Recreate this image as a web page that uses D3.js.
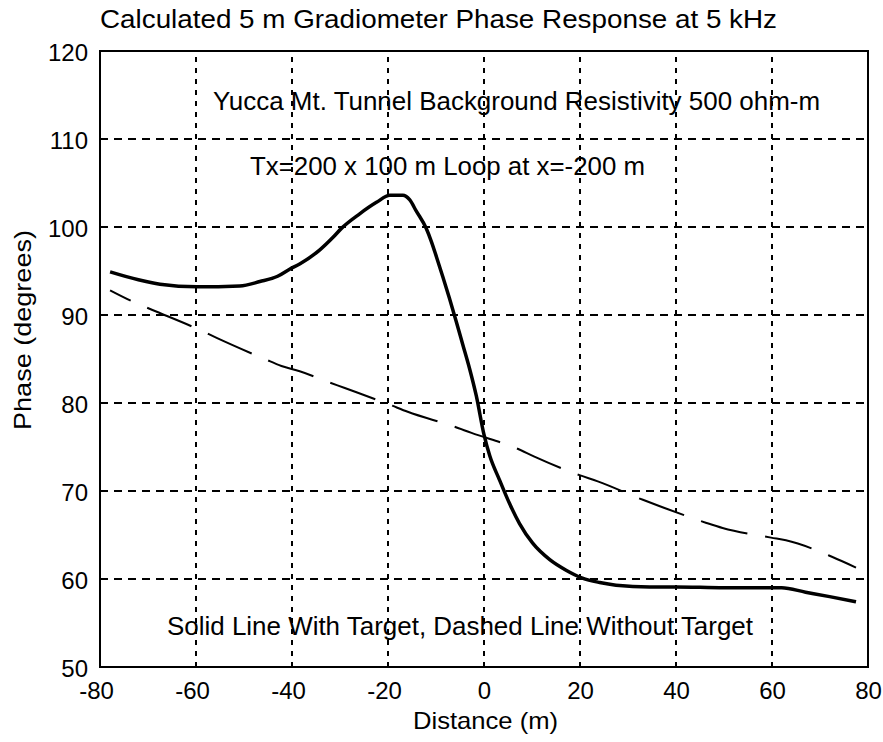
<!DOCTYPE html>
<html>
<head>
<meta charset="utf-8">
<script src="https://cdn.jsdelivr.net/npm/d3@7"></script>
<style>
  body { margin: 0; background: #fff; }
  text { font-family: "Liberation Sans", Arial, sans-serif; fill: #000; }
</style>
</head>
<body>
<div id="chart"></div>
<script>
// solid line: with target
const solidDist = [-77.9, -72, -67.5, -59.8, -50.9, -46.7, -43, -40.5, -38.4, -34.2, -31.5, -29.6, -25.9, -22.4, -19.6, -16.9, -15.5, -14.1, -12, -11, -9.9, -8.55, -7.2, -5.8, -4.4, -3.0, -1.6, 0, 1.2, 3.2, 5.3, 7.4, 10.1, 13.7, 17.1, 20.5, 24.1, 27.5, 34.5, 40, 50, 62, 67, 72, 77.5];
const solidPhase = [94.9, 94.0, 93.5, 93.2, 93.3, 93.8, 94.4, 95.2, 95.8, 97.4, 98.8, 99.9, 101.5, 102.8, 103.6, 103.6, 103.1, 101.8, 99.8, 98.4, 96.6, 94.3, 91.9, 89.3, 86.6, 83.9, 80.8, 76.4, 74.0, 71.3, 68.6, 66.3, 64.1, 62.2, 61.0, 60.1, 59.6, 59.3, 59.1, 59.1, 59.0, 59.0, 58.5, 58.0, 57.4];

// dashed line: without target
const dashDist = [-77.9, -73.1, -69.2, -59.2, -55.7, -45.7, -42.2, -38.4, -32.5, -29, -19.6, -15.9, -6.1, -2.6, 7, 10.5, 19.9, 23.7, 33.1, 36.5, 46.2, 49.7, 59.8, 62.9, 72.6, 77.5];
const dashPhase = [92.8, 91.5, 90.6, 88.3, 87.4, 85.0, 84.2, 83.6, 82.4, 81.7, 79.8, 79.0, 77.3, 76.6, 74.8, 73.9, 71.8, 71.1, 69.0, 68.3, 66.4, 65.8, 64.7, 64.4, 62.5, 61.3];

const xTicks = [-80, -60, -40, -20, 0, 20, 40, 60, 80];
const yTicks = [50, 60, 70, 80, 90, 100, 110, 120];

const titleText = 'Calculated 5 m Gradiometer Phase Response at 5 kHz';
const xLabel = 'Distance (m)';
const yLabel = 'Phase (degrees)';
const notes = [
    'Yucca Mt. Tunnel Background Resistivity 500 ohm-m',
    'Tx=200 x 100 m Loop at x=-200 m',
    'Solid Line With Target, Dashed Line Without Target'
];

const width = 883, height = 742;
const margin = {top: 51, right: 15, bottom: 75, left: 100};
const plotW = width - margin.left - margin.right;
const plotH = height - margin.top - margin.bottom;

const svg = d3.select('#chart').append('svg')
    .attr('width', width)
    .attr('height', height);

const x = d3.scaleLinear().domain([-80, 80]).range([margin.left, margin.left + plotW]);
const y = d3.scaleLinear().domain([50, 120]).range([margin.top + plotH, margin.top]);

// grid
svg.append('g').selectAll('line')
    .data(xTicks.slice(1, -1))
    .enter().append('line')
    .attr('x1', d => x(d)).attr('x2', d => x(d))
    .attr('y1', y(50)).attr('y2', y(120))
    .attr('stroke', '#000')
    .attr('stroke-width', 2)
    .attr('stroke-dasharray', '5,6');

svg.append('g').selectAll('line')
    .data(yTicks.slice(1, -1))
    .enter().append('line')
    .attr('x1', x(-80)).attr('x2', x(80))
    .attr('y1', d => y(d)).attr('y2', d => y(d))
    .attr('stroke', '#000')
    .attr('stroke-width', 2)
    .attr('stroke-dasharray', '8,6');

// box
svg.append('rect')
    .attr('x', x(-80)).attr('y', y(120))
    .attr('width', x(80) - x(-80))
    .attr('height', y(50) - y(120))
    .attr('fill', 'none')
    .attr('stroke', '#000')
    .attr('stroke-width', 2);

// axes (plain hyphen for negatives, like the original)
const xAxis = svg.append('g')
    .attr('transform', `translate(0,${y(50)})`)
    .call(d3.axisBottom(x).tickValues(xTicks).tickFormat(d => String(d)).tickSize(0).tickPadding(15));
xAxis.select('.domain').remove();
xAxis.selectAll('text')
    .style('font-size', '24px')
    .attr('dx', d => d < 0 ? -4 : 0);

const yAxis = svg.append('g')
    .attr('transform', `translate(${x(-80)},0)`)
    .call(d3.axisLeft(y).tickValues(yTicks).tickFormat(d => String(d)).tickSize(0).tickPadding(12));
yAxis.select('.domain').remove();
yAxis.selectAll('text')
    .style('font-size', '24px')
    .attr('dy', '0.4em');

// lines
const line = d3.line()
    .x(d => x(d[0]))
    .y(d => y(d[1]))
    .curve(d3.curveMonotoneX);

svg.append('path')
    .datum(dashDist.map((d, i) => [d, dashPhase[i]]))
    .attr('fill', 'none')
    .attr('stroke', '#000')
    .attr('stroke-width', 2)
    .attr('stroke-dasharray', '48,18')
    .attr('stroke-dashoffset', 25)
    .attr('d', line);

svg.append('path')
    .datum(solidDist.map((d, i) => [d, solidPhase[i]]))
    .attr('fill', 'none')
    .attr('stroke', '#000')
    .attr('stroke-width', 3.5)
    .attr('stroke-linejoin', 'round')
    .attr('d', line);

// texts
function addText(str, cx, by, len, size) {
    return svg.append('text')
        .attr('x', cx)
        .attr('y', by)
        .attr('text-anchor', 'middle')
        .attr('textLength', len)
        .attr('lengthAdjust', 'spacingAndGlyphs')
        .style('font-size', size + 'px')
        .text(str);
}

addText(titleText, 438.5, 28, 677, 25);
addText(notes[0], 516.5, 110, 607, 25);
addText(notes[1], 447.5, 175, 395, 25);
addText(notes[2], 460, 635, 586, 25);
addText(xLabel, 485.5, 729, 145, 24);

svg.append('text')
    .attr('transform', 'translate(31,330) rotate(-90)')
    .attr('text-anchor', 'middle')
    .attr('textLength', 200)
    .attr('lengthAdjust', 'spacingAndGlyphs')
    .style('font-size', '24px')
    .text(yLabel);
</script>
</body>
</html>
